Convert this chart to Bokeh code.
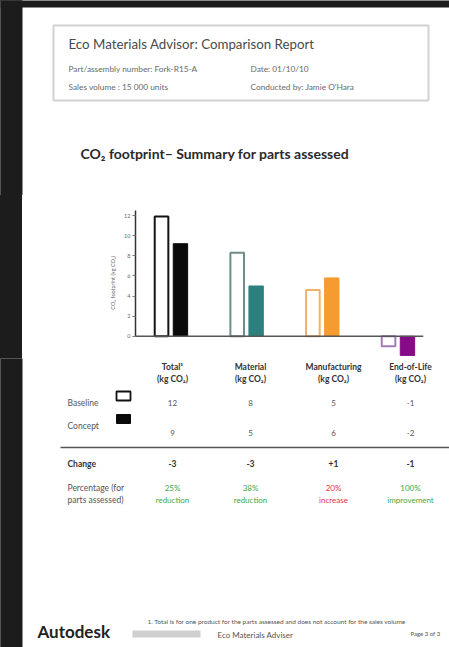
from bokeh.plotting import figure
from bokeh.models import Range1d, Label, Span, FixedTicker, ColumnDataSource
from bokeh.layouts import row, column
from bokeh.transform import dodge
from bokeh.core.properties import value
from bokeh.embed import file_html
from bokeh.resources import INLINE

# ---------------- data ----------------
categories = ["Total", "Material", "Manufacturing", "End-of-Life"]
baseline = [11.9, 8.3, 4.6, -1.0]
concept = [9.2, 5.0, 5.8, -1.9]
y_ticks = [0, 2, 4, 6, 8, 10, 12]
header_labels = ["Total¹", "Material", "Manufacturing", "End-of-Life"]
unit_labels = ["(kg CO₂)", "(kg CO₂)", "(kg CO₂)", "(kg CO₂)"]
baseline_labels = ["12", "8", "5", "-1"]
concept_labels = ["9", "5", "6", "-2"]
change_labels = ["-3", "-3", "+1", "-1"]
percent_labels = ["25%", "38%", "20%", "100%"]
percent_words = ["reduction", "reduction", "increase", "improvement"]

# ---------------- styles ----------------
FONT = "Lato"
baseline_line_colors = ["#141414", "#6f8c8c", "#f2b06a", "#a27ab5"]
concept_colors = ["#0a0a0a", "#2e807e", "#f59b30", "#870a87"]
percent_colors = ["#45a845", "#45a845", "#e0324a", "#45a845"]
col_x = [172, 250, 333, 410]
DARK = "#1c1c1c"

W = 449
TOP_H, CHART_H = 195, 163
BOT_Y0 = TOP_H + CHART_H
H = 647


def page_fig(width, h, x0, y_top, y_bottom, bg="white"):
    f = figure(width=width, height=h, x_range=Range1d(x0, x0 + width), y_range=Range1d(y_bottom, y_top),
               output_backend="svg", toolbar_location=None, min_border=0,
               x_axis_location=None, y_axis_location=None, frame_align=False)
    f.grid.visible = False
    f.outline_line_color = None
    f.background_fill_color = bg
    f.border_fill_color = bg
    return f


def lab(f, x, y, text, size, color="#444444", bold=False, align="left", font=FONT, baseline="middle"):
    f.add_layout(Label(x=x, y=y, text=text, text_font=font, text_font_size=f"{size}px",
                       text_color=color, text_font_style="bold" if bold else "normal",
                       text_align=align, text_baseline=baseline))


# ---------------- top: header + title ----------------
top = page_fig(W, TOP_H, 0, 0, TOP_H)
top.quad(left=0, right=W, top=-3, bottom=7, fill_color=DARK, line_color=None)
top.quad(left=-3, right=22, top=-3, bottom=TOP_H + 3, fill_color=DARK, line_color=None)
top.quad(left=53, right=428, top=25, bottom=100, fill_color=None, line_color="#d2d2d2", line_width=2)
lab(top, 68, 43, "Eco Materials Advisor: Comparison Report", 13.3, "#4a4a4a")
lab(top, 68, 68, "Part/assembly number: Fork-R15-A", 8.3, "#6a6a6a")
lab(top, 250, 68, "Date: 01/10/10", 8.3, "#6a6a6a")
lab(top, 68, 86, "Sales volume : 15 000 units", 8.3, "#6a6a6a")
lab(top, 250, 86, "Conducted by: Jamie O'Hara", 8.3, "#6a6a6a")
lab(top, 80, 153, "CO₂ footprint– Summary for parts assessed", 14, "#2a2a2a", bold=True)

# ---------------- chart ----------------
src = ColumnDataSource(dict(x=list(range(len(categories))), cat=categories,
                            baseline=baseline, concept=concept,
                            line_col=baseline_line_colors, fill_col=concept_colors))

chart = figure(width=W - 22, height=CHART_H, x_range=Range1d(-0.469, 3.337), y_range=Range1d(-2.21, 13.0),
               output_backend="svg", toolbar_location=None, x_axis_location=None, frame_align=False,
               min_border_left=113, min_border_right=26, min_border_top=10, min_border_bottom=0)
chart.grid.visible = False
chart.outline_line_color = None
chart.vbar(x=dodge("x", -0.125, range=chart.x_range), top="baseline", bottom=0, width=0.18,
           fill_color="white", line_color="line_col", line_width=2, source=src)
chart.vbar(x=dodge("x", 0.125, range=chart.x_range), top="concept", bottom=0, width=0.19,
           fill_color="fill_col", line_color="fill_col", line_width=1, source=src)
chart.add_layout(Span(location=0, dimension="width", line_color="#555555", line_width=1.5))

ya = chart.yaxis[0]
ya.ticker = FixedTicker(ticks=y_ticks)
ya.bounds = (0, 12.5)
ya.axis_line_color = "#333333"
ya.axis_line_width = 1.5
ya.major_tick_in = 0
ya.major_tick_out = 3
ya.major_tick_line_color = "#777777"
ya.minor_tick_line_color = None
ya.major_label_text_font = FONT
ya.major_label_text_font_size = "5.5px"
ya.major_label_text_color = "#666666"
ya.major_label_standoff = 2
ya.axis_label = "CO₂ footprint  (kg CO₂)"
ya.axis_label_text_font = FONT
ya.axis_label_text_font_size = "5.5px"
ya.axis_label_text_font_style = "normal"
ya.axis_label_text_color = "#666666"
ya.axis_label_standoff = 5

strip = page_fig(22, CHART_H, 0, TOP_H, BOT_Y0, bg=DARK)

# ---------------- bottom: table + footer ----------------
bot = page_fig(W, H - BOT_Y0, 0, BOT_Y0, H)
bot.quad(left=-3, right=22, top=BOT_Y0 - 3, bottom=H + 3, fill_color=DARK, line_color=None)
tf = value(FONT)
n = len(categories)
bot.text(x=col_x, y=[366] * n, text=header_labels, text_font=tf, text_font_size="8.5px",
         text_font_style="bold", text_color="#333333", text_align="center", text_baseline="middle")
bot.text(x=col_x, y=[378] * n, text=unit_labels, text_font=tf, text_font_size="8.5px",
         text_font_style="bold", text_color="#333333", text_align="center", text_baseline="middle")

lab(bot, 67, 402, "Baseline", 8.5, "#555555")
lab(bot, 67, 425, "Concept", 8.5, "#555555")
bot.quad(left=116, right=130, top=391, bottom=400, fill_color="white", line_color="#111111", line_width=1.8)
bot.quad(left=116, right=130, top=414, bottom=423, fill_color="#0a0a0a", line_color="#0a0a0a", line_width=1)

bot.text(x=col_x, y=[402] * n, text=baseline_labels, text_font=tf, text_font_size="8px",
         text_color="#555555", text_align="center", text_baseline="middle")
bot.text(x=col_x, y=[432] * n, text=concept_labels, text_font=tf, text_font_size="8px",
         text_color="#555555", text_align="center", text_baseline="middle")

bot.segment(x0=60, y0=447, x1=W, y1=447, line_color="#555555", line_width=1.5)

lab(bot, 67, 463, "Change", 8.5, "#333333", bold=True)
bot.text(x=col_x, y=[463] * n, text=change_labels, text_font=tf, text_font_size="8.5px",
         text_font_style="bold", text_color="#333333", text_align="center", text_baseline="middle")

lab(bot, 67, 487, "Percentage (for", 8.5, "#555555")
lab(bot, 67, 499, "parts assessed)", 8.5, "#555555")
bot.text(x=col_x, y=[487] * n, text=percent_labels, text_font=tf, text_font_size="8px",
         text_color=percent_colors, text_align="center", text_baseline="middle")
bot.text(x=col_x, y=[499] * n, text=percent_words, text_font=tf, text_font_size="8px",
         text_color=percent_colors, text_align="center", text_baseline="middle")

lab(bot, 147, 621, "1. Total is for one product for the parts assessed and does not account for the sales volume",
    6.5, "#555555")
lab(bot, 37, 631, "Autodesk", 17, "#222222", bold=True, baseline="middle")
bot.quad(left=132, right=200, top=630, bottom=637, fill_color="#d0d0d0", line_color=None)
lab(bot, 217, 634, "Eco Materials Adviser", 8, "#555555")
lab(bot, 410, 633, "Page 3 of 3", 6, "#555555")

# ---------------- layout ----------------
p = column(top, row(strip, chart), bot,
           styles={"background": f"linear-gradient(to right, {DARK} 22px, #ffffff 22px)"})

open("out.html", "w").write(file_html(p, INLINE))
